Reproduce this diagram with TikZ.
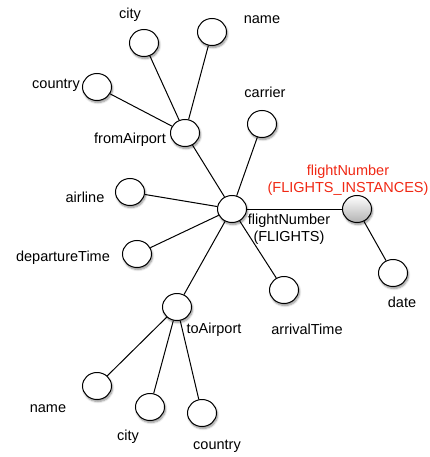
\documentclass[tikz,border=0pt]{standalone}
\usepackage{fontspec}
\setmainfont{Liberation Sans}
\usetikzlibrary{shapes.geometric,shadows.blur}
\definecolor{instred}{RGB}{240,40,20}
\tikzset{
  attr/.style={ellipse, draw=black, line width=1pt, fill=white,
    minimum width=29pt, minimum height=27pt, inner sep=0pt,
    blur shadow={shadow xshift=1pt, shadow yshift=-2pt,
      shadow blur radius=2pt, shadow blur steps=6, shadow opacity=45}},
  inst/.style={attr, top color=white, bottom color=black!30},
  lbl/.style={font=\fontsize{14.5}{17}\selectfont, inner sep=0pt, align=center},
  edge/.style={line width=1pt}
}
\begin{document}
\begin{tikzpicture}[x=1pt,y=-1pt]
\useasboundingbox (0,0) rectangle (430,457);

% attribute nodes
\node[attr] (fn)    at (232,209) {};
\node[inst] (fni)   at (357,209) {};
\node[attr] (date)  at (393,273) {};
\node[attr] (from)  at (185,133) {};
\node[attr] (fcity) at (144,43)  {};
\node[attr] (fname) at (212,32)  {};
\node[attr] (fctry) at (97,87)   {};
\node[attr] (carr)  at (262,124) {};
\node[attr] (airl)  at (130,192) {};
\node[attr] (dep)   at (137,254) {};
\node[attr] (to)    at (177,307) {};
\node[attr] (arr)   at (284,290) {};
\node[attr] (tname) at (97,386)  {};
\node[attr] (tcity) at (150,407) {};
\node[attr] (tctry) at (202,413) {};

% connectors
\draw[edge] (fn) -- (fni);
\draw[edge] (fni) -- (date);
\draw[edge] (fn) -- (from);
\draw[edge] (fn) -- (carr);
\draw[edge] (fn) -- (airl);
\draw[edge] (fn) -- (dep);
\draw[edge] (fn) -- (to);
\draw[edge] (fn) -- (arr);
\draw[edge] (from) -- (fcity);
\draw[edge] (from) -- (fname);
\draw[edge] (from) -- (fctry);
\draw[edge] (to) -- (tname);
\draw[edge] (to) -- (tcity);
\draw[edge] (to) -- (tctry);

% labels
\node[lbl] (lfcity) at (130,15)  {city};
\node[lbl] (lfname) at (262,20)  {name};
\node[lbl] (lfctry) at (56,85)   {country};
\node[lbl] (lcarr)  at (265,92)  {carrier};
\node[lbl] (lfrom)  at (130,140) {fromAirport};
\node[lbl] (lairl)  at (85,197)  {airline};
\node[lbl, text=instred] (lfni) at (348,180) {flightNumber\\(FLIGHTS\_INSTANCES)};
\node[lbl] (lfn)    at (289,229) {flightNumber\\(FLIGHTS)};
\node[lbl] (ldep)   at (63,258)  {departureTime};
\node[lbl] (ldate)  at (402,302) {date};
\node[lbl] (lto)    at (214,330) {toAirport};
\node[lbl] (larr)   at (307,329) {arrivalTime};
\node[lbl] (ltname) at (48,409)  {name};
\node[lbl] (ltcity) at (128,437) {city};
\node[lbl] (ltctry) at (217,446) {country};
\end{tikzpicture}
\end{document}
